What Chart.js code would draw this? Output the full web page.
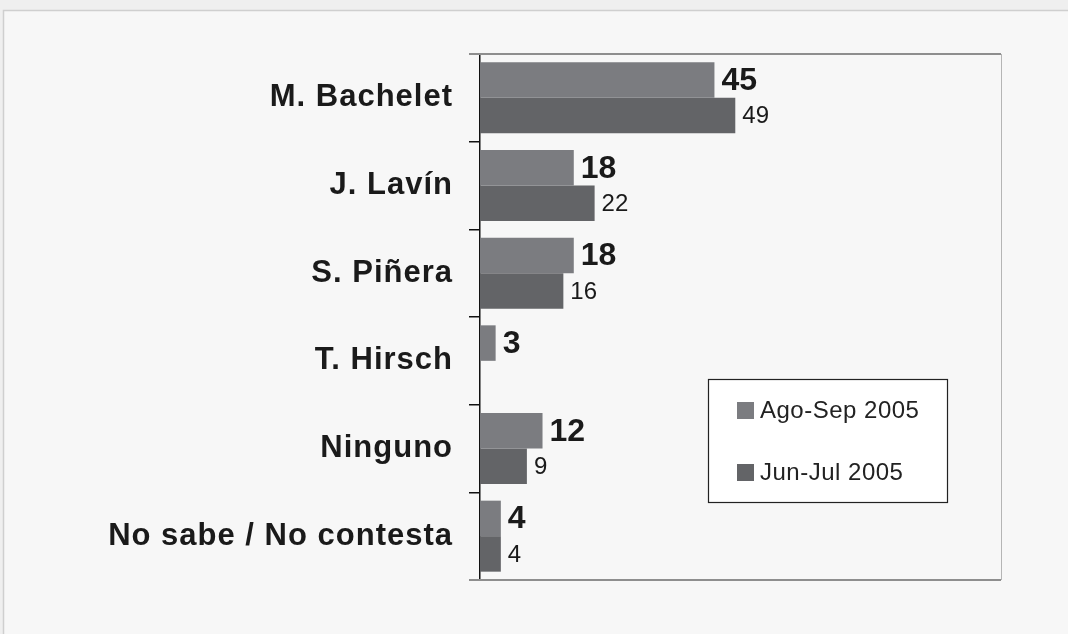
<!DOCTYPE html>
<html>
<head>
<meta charset="utf-8">
<script src="https://cdn.jsdelivr.net/npm/chart.js@4/dist/chart.umd.min.js"></script>
<style>
  html, body { margin: 0; padding: 0; background: #efefef; }
  #wrap { position: relative; width: 1068px; height: 634px; }
</style>
</head>
<body>
<div id="wrap"><canvas id="chart" width="1068" height="634"></canvas></div>
<script>
const categories = ['M. Bachelet', 'J. Lavín', 'S. Piñera', 'T. Hirsch', 'Ninguno', 'No sabe / No contesta'];
const agoSep = [45, 18, 18, 3, 12, 4];
const junJul = [49, 22, 16, null, 9, 4];
const seriesLabels = ['Ago-Sep 2005', 'Jun-Jul 2005'];
const colors = ['#7b7c80', '#636467'];

const FONT = '"Liberation Sans", Arial, sans-serif';

// background panel + plot frame
const framePlugin = {
  id: 'frame',
  beforeDraw(chart) {
    const { ctx } = chart;
    ctx.save();
    ctx.fillStyle = '#efefef';
    ctx.fillRect(0, 0, chart.width, chart.height);
    ctx.fillStyle = '#f7f7f7';
    ctx.fillRect(3, 10, chart.width, chart.height);
    ctx.strokeStyle = '#cfcfcf';
    ctx.lineWidth = 1.5;
    ctx.strokeRect(3.5, 10.5, chart.width + 10, chart.height + 10);
    ctx.restore();
    // the original labels are set a bit wide
    ctx.letterSpacing = '1px';
  },
  beforeDatasetsDraw(chart) {
    chart.ctx.letterSpacing = '0px';
  },
  afterDatasetsDraw(chart) {
    const { ctx, chartArea: a } = chart;
    ctx.save();
    ctx.strokeStyle = '#8e8e8e';
    ctx.lineWidth = 2;
    ctx.beginPath();
    ctx.moveTo(a.left - 11, a.top);
    ctx.lineTo(a.right, a.top);
    ctx.moveTo(a.left - 11, a.bottom);
    ctx.lineTo(a.right, a.bottom);
    ctx.stroke();
    ctx.strokeStyle = '#b5b5b5';
    ctx.lineWidth = 1;
    ctx.beginPath();
    ctx.moveTo(a.right + 0.5, a.top);
    ctx.lineTo(a.right + 0.5, a.bottom);
    ctx.stroke();
    ctx.restore();
  }
};

// value labels next to each bar
const valueLabels = {
  id: 'valueLabels',
  afterDatasetsDraw(chart) {
    const { ctx } = chart;
    ctx.save();
    ctx.fillStyle = '#1a1a1a';
    ctx.textBaseline = 'middle';
    ctx.textAlign = 'left';
    chart.data.datasets.forEach((ds, i) => {
      ctx.font = i === 0 ? `bold 32px ${FONT}` : `24px ${FONT}`;
      chart.getDatasetMeta(i).data.forEach((bar, j) => {
        const v = ds.data[j];
        if (v == null) return;
        ctx.fillText(String(v), bar.x + 7, bar.y + 1);
      });
    });
    ctx.restore();
  }
};

// boxed legend inside the plot
const boxLegend = {
  id: 'boxLegend',
  afterDraw(chart) {
    const { ctx } = chart;
    const x = 708, y = 379, w = 239, h = 123;
    ctx.save();
    ctx.fillStyle = '#ffffff';
    ctx.fillRect(x, y, w, h);
    ctx.strokeStyle = '#222';
    ctx.lineWidth = 1.2;
    ctx.strokeRect(x + 0.5, y + 0.5, w, h);
    ctx.font = `24px ${FONT}`;
    ctx.letterSpacing = '0.5px';
    ctx.textBaseline = 'middle';
    chart.data.datasets.forEach((ds, i) => {
      const cy = 410 + i * 62;
      ctx.fillStyle = ds.backgroundColor;
      ctx.fillRect(737, cy - 8, 17, 17);
      ctx.fillStyle = '#222';
      ctx.fillText(ds.label, 760, cy + 1);
    });
    ctx.restore();
    ctx.letterSpacing = '0px';
  }
};

new Chart(document.getElementById('chart'), {
  type: 'bar',
  data: {
    labels: categories,
    datasets: [
      { label: seriesLabels[0], data: agoSep, backgroundColor: colors[0] },
      { label: seriesLabels[1], data: junJul, backgroundColor: colors[1] },
    ],
  },
  options: {
    indexAxis: 'y',
    responsive: false,
    animation: false,
    datasets: { bar: { categoryPercentage: 0.81, barPercentage: 1 } },
    layout: { padding: { left: 0, top: 54, right: 67, bottom: 54 } },
    plugins: {
      legend: { display: false },
      tooltip: { enabled: false },
    },
    scales: {
      x: {
        min: 0,
        max: 100,
        display: false,
      },
      y: {
        offset: true,
        afterFit(scale) { scale.width = 480; },
        grid: {
          offset: true,
          drawOnChartArea: false,
          drawTicks: true,
          tickLength: 11,
          color: '#111',
          lineWidth: 1.5,
        },
        border: { display: true, color: '#111', width: 1.5 },
        ticks: {
          padding: 16,
          color: '#1a1a1a',
          font: { family: FONT, size: 31, weight: 'bold' },
        },
      },
    },
  },
  plugins: [framePlugin, valueLabels, boxLegend],
});
</script>
</body>
</html>
